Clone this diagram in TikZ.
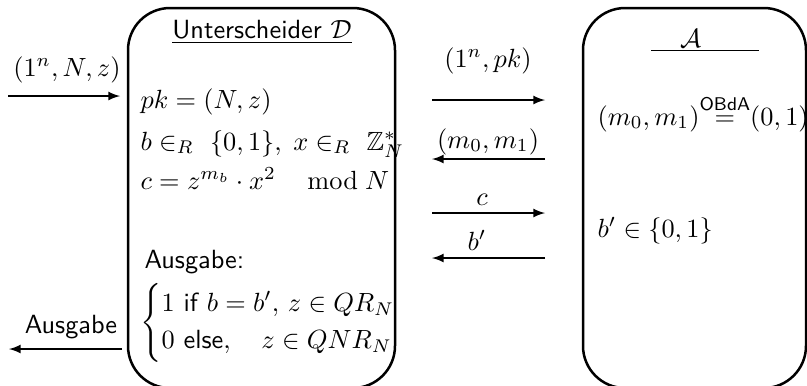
\documentclass[tikz,border=0pt]{standalone}
\usepackage{amsmath, amssymb}
\usepackage{tikz}
\usetikzlibrary{positioning}
\renewcommand{\familydefault}{\sfdefault}
\newcommand{\pxu}{0.38pt}

\begin{document}
\begin{tikzpicture}[x=\pxu, y=-\pxu,
    party/.style={draw, line width=0.95pt, rounded corners=16pt,
      minimum height=380*\pxu},
    msg/.style={line width=0.55pt, -latex},
    txt/.style={inner sep=0pt, anchor=base west},
    lbl/.style={inner sep=0pt, anchor=base}]
  \useasboundingbox (0,0) rectangle (807,385);
  % the two parties
  \node[party, minimum width=267*\pxu] (dist) at (261.5,198) {};
  \node[party, minimum width=223*\pxu] (adv) at (694.5,198) {};
  % Unterscheider
  \node[lbl] (dtitle) at (262,38) {\underline{Unterscheider $\mathcal{D}$}};
  \node[txt] (pk) at (140,108) {$pk=(N,z)$};
  \node[txt] (bx) at (140,150) {$b\in_R\ \{0,1\},\;x\in_R\ \mathbb{Z}_N^*$};
  \node[txt] (cc) at (140,189) {$c=z^{m_b}\cdot x^2\hspace{12pt}\mathrm{mod}\;N$};
  \node[txt] (ausg) at (144,268) {Ausgabe:};
  \node[txt] (res) at (140,329)
    {$\begin{cases}1\text{ if }b=b',\, z\in QR_N\\
      0\text{ else},\quad z\in QNR_N\end{cases}$};
  % Angreifer
  \node[lbl] (atitle) at (705,47)
    {\underline{\hspace{11pt}$\mathcal{A}$\hspace{22pt}}};
  \node[txt] (mm) at (597,125)
    {$(m_0,m_1){\overset{\text{OBdA}}{=}}(0,1)$};
  \node[txt] (bb) at (597,237) {$b'\in\{0,1\}$};
  % Ein- und Ausgabe
  \coordinate (inl) at (8,96);   \coordinate (inr) at (120,96);
  \coordinate (outr) at (122,349); \coordinate (outl) at (9,349);
  \node[lbl] (inlbl) at (67,76) {$(1^n,N,z)$};
  \node[lbl] (outlbl) at (71,333) {Ausgabe};
  \draw[msg] (inl) -- (inr);
  \draw[msg] (outr) -- (outl);
  % Nachrichten
  \coordinate (m1l) at (432,100); \coordinate (m1r) at (545,100);
  \coordinate (m2l) at (432,159); \coordinate (m2r) at (545,159);
  \coordinate (m3l) at (432,213); \coordinate (m3r) at (545,213);
  \coordinate (m4l) at (432,258); \coordinate (m4r) at (545,258);
  \node[lbl] (m1lbl) at (488,67) {$(1^n,pk)$};
  \node[lbl] (m2lbl) at (488,148) {$(m_0,m_1)$};
  \node[lbl] (m3lbl) at (482,205) {$c$};
  \node[lbl] (m4lbl) at (477,250) {$b'$};
  \draw[msg] (m1l) -- (m1r);
  \draw[msg] (m2r) -- (m2l);
  \draw[msg] (m3l) -- (m3r);
  \draw[msg] (m4r) -- (m4l);
\end{tikzpicture}
\end{document}
